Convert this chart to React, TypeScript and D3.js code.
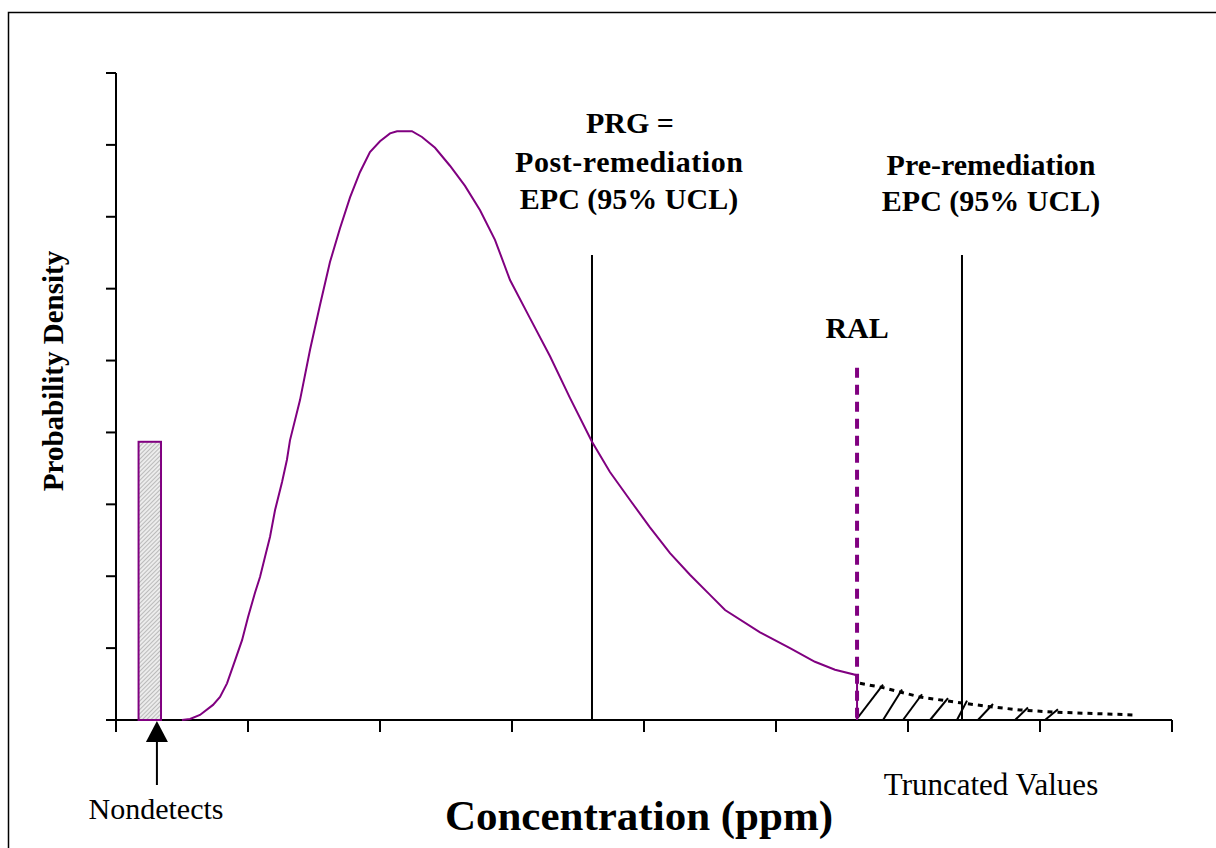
import React from 'react';
import * as d3 from 'd3';

// concentration (ppm, arbitrary units) vs probability density
const curveX = [0.5, 0.561, 0.636, 0.735, 0.788, 0.841, 0.902, 0.955, 1.0, 1.053, 1.091, 1.129, 1.167, 1.205, 1.258, 1.295, 1.318, 1.394, 1.47, 1.545, 1.621, 1.697, 1.773, 1.848, 1.924, 2.0, 2.076, 2.129, 2.242, 2.318, 2.417, 2.53, 2.644, 2.758, 2.871, 2.985, 3.136, 3.288, 3.439, 3.606, 3.742, 3.894, 4.045, 4.197, 4.348, 4.5, 4.614, 4.879, 5.106, 5.295, 5.447, 5.598, 5.614, 5.614];
const curveY = [0, 0.014, 0.07, 0.21, 0.32, 0.51, 0.83, 1.11, 1.43, 1.77, 1.99, 2.27, 2.55, 2.92, 3.31, 3.62, 3.89, 4.45, 5.15, 5.77, 6.37, 6.84, 7.27, 7.62, 7.9, 8.05, 8.16, 8.19, 8.19, 8.11, 7.96, 7.71, 7.43, 7.09, 6.68, 6.12, 5.59, 5.06, 4.48, 3.87, 3.45, 3.06, 2.68, 2.32, 2.02, 1.74, 1.53, 1.22, 1.0, 0.81, 0.7, 0.63, 0.6, 0];

// truncated tail (dotted)
const tailX = [5.636, 5.811, 6.091, 6.394, 6.644, 6.848, 7.098, 7.72];
const tailY = [0.51, 0.45, 0.32, 0.24, 0.18, 0.14, 0.11, 0.07];

// hatch strokes under the tail: start on axis, end on tail
const hatchFrom = [5.606, 5.811, 5.962, 6.167, 6.371, 6.53, 6.811, 7.038];
const hatchTo = [5.811, 5.955, 6.106, 6.303, 6.447, 6.644, 6.909, 7.136];

// nondetects bar
const ndX0 = 0.171;
const ndX1 = 0.341;
const ndHeight = 3.87;
const ndArrowX = 0.31;

const ralX = 5.614;
const ralTop = 4.9;
const prgX = 3.606;
const preX = 6.409;
const epcTop = 6.47;

const xTicks = [0, 1, 2, 3, 4, 5, 6, 7, 8];
const yTicks = [0, 1, 2, 3, 4, 5, 6, 7, 8, 9];

const PURPLE = '#800080';
const FONT = '"Liberation Serif", "Times New Roman", serif';

export default function App() {
  const x = d3.scaleLinear().domain([0, 8]).range([116, 1172]);
  const y = d3.scaleLinear().domain([0, 9]).range([720, 73]);

  const line = d3.line<[number, number]>().x(d => x(d[0])).y(d => y(d[1]));
  const curve = curveX.map((v, i) => [v, curveY[i]] as [number, number]);
  const tail = tailX.map((v, i) => [v, tailY[i]] as [number, number]);
  const tailAt = d3.scaleLinear().domain(tailX).range(tailY).clamp(true);

  const arrowPx = x(ndArrowX);

  return (
    <svg width={1216} height={848} style={{ position: 'absolute', left: 0, top: 0, background: '#fff' }} fontFamily={FONT}>
      <defs>
        <pattern id="nd" width={3} height={3} patternUnits="userSpaceOnUse" patternTransform="rotate(45)">
          <rect width={3} height={3} fill="#ececec" />
          <line x1={0} y1={0} x2={0} y2={3} stroke="#8a8a8a" strokeWidth={1} />
        </pattern>
      </defs>
      <rect x={8.5} y={12.5} width={1300} height={900} fill="none" stroke="#000" strokeWidth={1.5} />

      {/* axes */}
      <line x1={x(0)} x2={x(0)} y1={y(9)} y2={y(0)} stroke="#000" strokeWidth={2} />
      {yTicks.map(t => (
        <line key={'y' + t} x1={x(0) - 10} x2={x(0)} y1={y(t)} y2={y(t)} stroke="#000" strokeWidth={2} />
      ))}
      <line x1={x(0) - 10} x2={x(8)} y1={y(0)} y2={y(0)} stroke="#000" strokeWidth={2} />
      {xTicks.map(t => (
        <line key={'x' + t} x1={x(t)} x2={x(t)} y1={y(0)} y2={y(0) + 12} stroke="#000" strokeWidth={2} />
      ))}

      {/* nondetects */}
      <rect x={x(ndX0)} y={y(ndHeight)} width={x(ndX1) - x(ndX0)} height={y(0) - y(ndHeight)} fill="url(#nd)" stroke={PURPLE} strokeWidth={2} />
      <path d={`M${arrowPx},${y(0) + 1} L${arrowPx - 11},${y(0) + 22} L${arrowPx + 11},${y(0) + 22} Z`} fill="#000" />
      <line x1={arrowPx} x2={arrowPx} y1={y(0) + 20} y2={y(0) + 65} stroke="#000" strokeWidth={2} />

      {/* vertical reference lines */}
      <line x1={x(prgX)} x2={x(prgX)} y1={y(epcTop)} y2={y(0)} stroke="#000" strokeWidth={2} />
      <line x1={x(preX)} x2={x(preX)} y1={y(epcTop)} y2={y(0)} stroke="#000" strokeWidth={2} />

      {/* tail + hatch */}
      {hatchFrom.map((h, i) => (
        <line key={'h' + i} x1={x(h)} y1={y(0)} x2={x(hatchTo[i])} y2={y(tailAt(hatchTo[i])) - 3} stroke="#000" strokeWidth={2} />
      ))}
      <path d={line(tail) || ''} fill="none" stroke="#000" strokeWidth={3} strokeDasharray="5 5" />

      {/* RAL */}
      <line x1={x(ralX)} x2={x(ralX)} y1={y(ralTop)} y2={y(0)} stroke={PURPLE} strokeWidth={4} strokeDasharray="10 7" />

      {/* density curve */}
      <path d={line(curve) || ''} fill="none" stroke={PURPLE} strokeWidth={2} />

      {/* labels */}
      <g fontWeight="bold" fontSize={30} textAnchor="middle" fill="#000">
        <text x={630} y={133}>PRG =</text>
        <text x={629} y={172} textLength={228} lengthAdjust="spacing">Post-remediation</text>
        <text x={629} y={209}>EPC (95% UCL)</text>
        <text x={991} y={175}>Pre-remediation</text>
        <text x={991} y={211}>EPC (95% UCL)</text>
        <text x={x(ralX)} y={338}>RAL</text>
      </g>
      <text x={639} y={830} textAnchor="middle" fontWeight="bold" fontSize={43}>Concentration (ppm)</text>
      <text transform="translate(63,371) rotate(-90)" textAnchor="middle" fontWeight="bold" fontSize={29}>Probability Density</text>
      <text x={156} y={819} textAnchor="middle" fontSize={30}>Nondetects</text>
      <text x={991} y={795} textAnchor="middle" fontSize={31}>Truncated Values</text>
    </svg>
  );
}
